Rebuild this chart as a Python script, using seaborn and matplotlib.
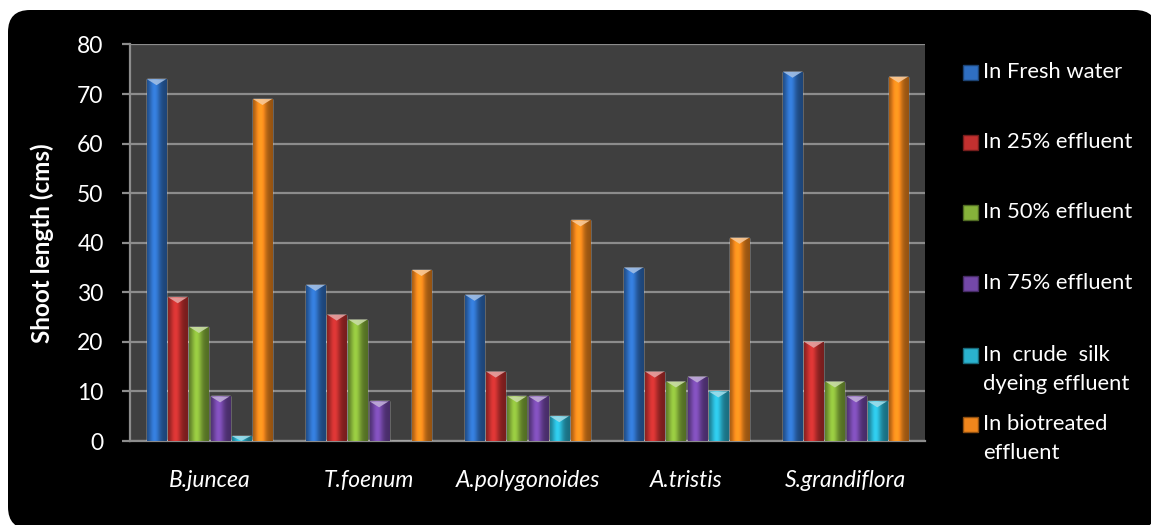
import numpy as np
import pandas as pd
import matplotlib
matplotlib.use("Agg")
import matplotlib.pyplot as plt
import seaborn as sns
from matplotlib.patches import FancyBboxPatch, Rectangle, Polygon
from matplotlib.transforms import IdentityTransform

# ---- data -------------------------------------------------------------
species = ["B.juncea", "T.foenum", "A.polygonoides", "A.tristis", "S.grandiflora"]
media = ["In Fresh water", "In 25% effluent", "In 50% effluent",
         "In 75% effluent", "In  crude  silk dyeing effluent",
         "In biotreated effluent"]
legend_lines = [["In Fresh water"], ["In 25% effluent"], ["In 50% effluent"],
                ["In 75% effluent"], ["In  crude  silk", "dyeing effluent"],
                ["In biotreated", "effluent"]]

fresh_water = [73, 31.5, 29.5, 35, 74.5]
effluent_25 = [29, 25.5, 14, 14, 20]
effluent_50 = [23, 24.5, 9, 12, 12]
effluent_75 = [9, 8, 9, 13, 9]
crude_silk = [1, 0, 5, 10, 8]
biotreated = [69, 34.5, 44.5, 41, 73.5]

y_ticks = [0, 10, 20, 30, 40, 50, 60, 70, 80]
colors = ["#2f6fc2", "#c2302f", "#86b23a", "#7448a8", "#2ab2cf", "#f0861c"]

series = [fresh_water, effluent_25, effluent_50, effluent_75, crude_silk, biotreated]
df = pd.DataFrame({
    "species": np.tile(species, len(media)),
    "medium": np.repeat(media, len(species)),
    "length": np.concatenate(series),
})

# ---- figure -----------------------------------------------------------
W, H, DPI = 1151, 525, 100
sns.set_theme(style="dark")
plt.rcParams["font.family"] = ["Lato", "DejaVu Sans"]
fig = plt.figure(figsize=(W / DPI, H / DPI), dpi=DPI, facecolor="white")

# black rounded panel behind everything
panel = FancyBboxPatch((8, -4), 1149, 519, transform=IdentityTransform(),
                       boxstyle="round,pad=0,rounding_size=22",
                       facecolor="black", edgecolor="none", zorder=-5)
fig.patches.append(panel)

ax_l, ax_r, ax_t, ax_b = 130, 925, 44.5, 441
ax = fig.add_axes([ax_l / W, (H - ax_b) / H, (ax_r - ax_l) / W, (ax_b - ax_t) / H])
ax.set_zorder(2)
ax.set_facecolor("#3f3f3f")

sns.barplot(data=df, x="species", y="length", hue="medium", order=species,
            hue_order=media, palette=colors, saturation=1, width=0.8, gap=0.1,
            errorbar=None, legend=False, ax=ax, zorder=3)

# cylindrical shading and a light cap on each bar
prof = np.linspace(0, 1, 64)
shade = 0.62 + 0.55 * np.exp(-((prof - 0.38) / 0.28) ** 2)
px_per_unit = (ax_b - ax_t) / 80.0
for p in list(ax.patches):
    h = p.get_height()
    if h <= 0.05:
        continue
    x0 = p.get_x()
    w = p.get_width()
    rgb = np.array(matplotlib.colors.to_rgb(p.get_facecolor()))
    img = np.clip(rgb[None, :] * shade[:, None], 0, 1)
    img = np.concatenate([img, np.ones((len(prof), 1))], axis=1)[None, :, :]
    im = ax.imshow(img, extent=(x0, x0 + w, 0, h), aspect="auto",
                   interpolation="bicubic", zorder=4)
    im.set_clip_path(p)
    cap_h = min(6 / px_per_unit, h)
    light = np.clip(rgb * 0.45 + 0.55, 0, 1)
    cap = Polygon([[x0, h], [x0 + w, h], [x0 + w * 0.72, h - cap_h * 0.55],
                   [x0 + w * 0.5, h - cap_h], [x0 + w * 0.28, h - cap_h * 0.55]],
                  closed=True, facecolor=light, edgecolor="none", zorder=5, alpha=0.9)
    ax.add_patch(cap)

ax.set_xlim(-0.5, len(species) - 0.5)
ax.set_ylim(0, 80)
ax.set_yticks(y_ticks)
ax.yaxis.grid(True, color="#8c8c8c", linewidth=1.6, zorder=1)
ax.xaxis.grid(False)
ax.set_axisbelow(True)
for side in ["top", "right"]:
    ax.spines[side].set_visible(False)
for side in ["left", "bottom"]:
    ax.spines[side].set_visible(True)
    ax.spines[side].set_color("#8c8c8c")
    ax.spines[side].set_linewidth(1.6)

ax.tick_params(axis="y", colors="#8c8c8c", labelcolor="white", length=6,
               width=1.6, pad=13, labelsize=16.5, left=True)
ax.tick_params(axis="x", length=0, pad=21, labelcolor="white", labelsize=16.5)
for lab in ax.get_xticklabels():
    lab.set_fontstyle("italic")

ax.set_xlabel("")
ax.set_ylabel("Shoot length (cms)", color="white", fontsize=17.5, fontweight="bold",
              va="center")
ax.yaxis.set_label_coords((42 - ax_l) / (ax_r - ax_l), 0.5)

# legend drawn beside the plot
leg_y = [72, 142, 212, 283, 355, 424]
line_gap = 29
for col, lines, yc in zip(colors, legend_lines, leg_y):
    sq = Rectangle((963 / W, (H - yc - 7.5) / H), 15 / W, 15 / H,
                   transform=fig.transFigure, facecolor=col,
                   edgecolor=matplotlib.colors.to_hex(np.array(matplotlib.colors.to_rgb(col)) * 0.6),
                   linewidth=1, zorder=5)
    fig.patches.append(sq)
    for k, txt in enumerate(lines):
        fig.text(983 / W, (H - yc - k * line_gap) / H, txt, color="white",
                 fontsize=15.8, va="center", ha="left")

fig.savefig("out.png", dpi=DPI, facecolor="white")
